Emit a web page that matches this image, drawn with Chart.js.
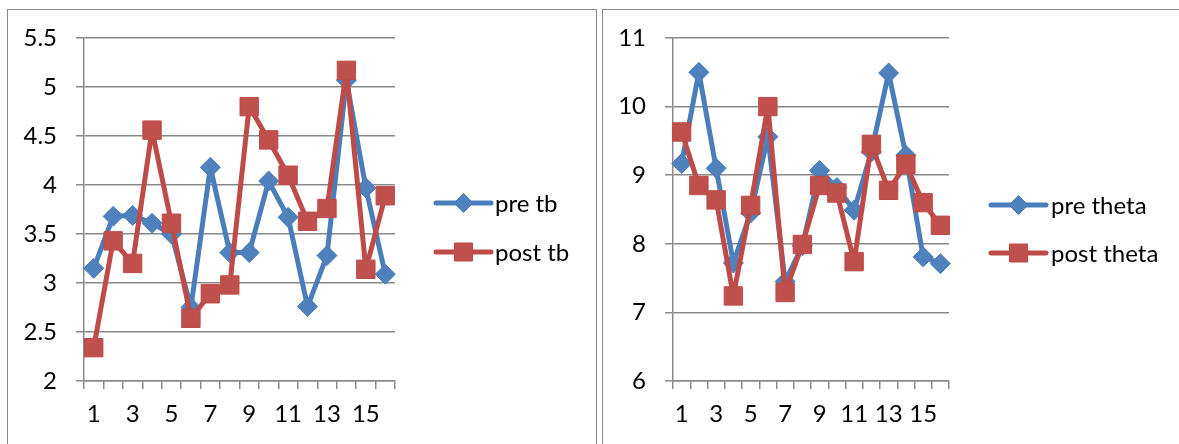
<!DOCTYPE html>
<html>
<head>
<meta charset="utf-8">
<script src="https://cdn.jsdelivr.net/npm/chart.js@4/dist/chart.umd.min.js"></script>
<style>
  html, body { margin: 0; padding: 0; background: #fff; overflow: hidden; }
  .panel { position: absolute; top: 9px; border: 1px solid #8a8a8a; background: #fff; }
  #box1 { left: 7px; width: 588px; height: 440px; }
  #box2 { left: 602px; width: 590px; height: 440px; }
  canvas { display: block; }
</style>
</head>
<body>
<div class="panel" id="box1"><canvas id="tb" width="588" height="434"></canvas></div>
<div class="panel" id="box2"><canvas id="theta" width="576" height="434"></canvas></div>
<script>
// Sessions 1..16
const sessions = ['1','2','3','4','5','6','7','8','9','10','11','12','13','14','15','16'];

// theta/beta ratio
const preTb  = [3.15, 3.68, 3.69, 3.61, 3.50, 2.75, 4.18, 3.31, 3.31, 4.04, 3.67, 2.76, 3.28, 5.07, 3.97, 3.09];
const postTb = [2.34, 3.43, 3.20, 4.56, 3.61, 2.64, 2.89, 2.98, 4.80, 4.46, 4.10, 3.63, 3.76, 5.17, 3.14, 3.89];

// theta power
const preTheta  = [9.17, 10.50, 9.10, 7.72, 8.45, 9.56, 7.45, 7.97, 9.07, 8.82, 8.49, 9.34, 10.49, 9.29, 7.81, 7.71];
const postTheta = [9.63, 8.85, 8.64, 7.24, 8.56, 10.00, 7.29, 7.99, 8.85, 8.74, 7.74, 9.45, 8.78, 9.16, 8.60, 8.27];

// y axis ranges
const tbAxis    = { min: 2, max: 5.5, step: 0.5 };
const thetaAxis = { min: 6, max: 11,  step: 1 };

const FONT = "Lato, 'Open Sans', sans-serif";
const FONT_SIZE = 24;
const BLUE_LINE = '#4A7EBB', BLUE_FILL = '#4F81BD';
const RED_LINE  = '#BE4B48', RED_FILL  = '#C0504D';
const GRID = '#898989';

function drawMarker(ctx, style, x, y, fill, stroke) {
  ctx.save();
  ctx.fillStyle = fill;
  ctx.strokeStyle = stroke;
  ctx.lineWidth = 1;
  ctx.beginPath();
  if (style === 'rectRot') {
    const r = 9.5;
    ctx.moveTo(x, y - r); ctx.lineTo(x + r, y); ctx.lineTo(x, y + r); ctx.lineTo(x - r, y);
  } else {
    const h = 9;
    ctx.rect(x - h, y - h, 2 * h, 2 * h);
  }
  ctx.closePath();
  ctx.fill();
  ctx.stroke();
  ctx.restore();
}

// Legend with a line sample and marker beside each series name
const lineLegend = {
  id: 'lineLegend',
  afterDraw(chart, args, opts) {
    const ctx = chart.ctx;
    chart.data.datasets.forEach((ds, i) => {
      const y = opts.y[i];
      ctx.save();
      ctx.strokeStyle = ds.borderColor;
      ctx.lineWidth = 5;
      ctx.lineCap = 'round';
      ctx.beginPath();
      ctx.moveTo(opts.x1, y);
      ctx.lineTo(opts.x2, y);
      ctx.stroke();
      ctx.restore();
      drawMarker(ctx, ds.pointStyle, (opts.x1 + opts.x2) / 2, y, ds.pointBackgroundColor, ds.pointBorderColor);
      ctx.save();
      ctx.fillStyle = '#000';
      ctx.font = FONT_SIZE + 'px ' + FONT;
      ctx.textBaseline = 'middle';
      ctx.textAlign = 'left';
      ctx.fillText(ds.label, opts.textX, y + 1);
      ctx.restore();
    });
  }
};

function series(label, data, line, fill, style, order) {
  return {
    label, data, order,
    borderColor: line,
    backgroundColor: fill,
    borderWidth: 5,
    borderJoinStyle: 'round',
    borderCapStyle: 'round',
    tension: 0,
    pointStyle: style,
    pointRadius: style === 'rect' ? 13 : 10,
    pointBorderWidth: 1,
    pointBackgroundColor: fill,
    pointBorderColor: line,
    pointHoverRadius: style === 'rect' ? 13 : 10
  };
}

function makeChart(id, sets, axis, yWidth, padRight, legend) {
  return new Chart(document.getElementById(id), {
    type: 'line',
    data: { labels: sessions, datasets: sets },
    options: {
      responsive: false,
      animation: false,
      layout: { padding: { left: 0, top: 28, right: padRight, bottom: 0 } },
      plugins: {
        legend: { display: false },
        tooltip: { enabled: false },
        lineLegend: legend
      },
      scales: {
        x: {
          type: 'category',
          offset: true,
          grid: { display: true, offset: true, drawOnChartArea: false, drawTicks: true, tickLength: 8, color: GRID, lineWidth: 1.5 },
          border: { display: true, color: GRID, width: 1.5 },
          ticks: {
            autoSkip: false, maxRotation: 0, padding: 11, color: '#000',
            font: { family: FONT, size: FONT_SIZE },
            callback: function (v, i) { return i % 2 === 0 ? this.getLabelForValue(v) : ''; }
          },
          afterFit(scale) { scale.height = 63; }
        },
        y: {
          min: axis.min, max: axis.max,
          grid: { display: true, drawOnChartArea: true, drawTicks: true, tickLength: 8, color: GRID, lineWidth: 1.5 },
          border: { display: true, color: GRID, width: 1.5 },
          ticks: {
            stepSize: axis.step, padding: 19, color: '#000',
            font: { family: FONT, size: FONT_SIZE },
            callback: v => String(v)
          },
          afterFit(scale) {
            scale.width = yWidth;
            scale.paddingTop = 0;
            scale.paddingBottom = 0;
          }
        }
      }
    },
    plugins: [lineLegend]
  });
}

makeChart('tb', [
  series('pre tb', preTb, BLUE_LINE, BLUE_FILL, 'rectRot', 1),
  series('post tb', postTb, RED_LINE, RED_FILL, 'rect', 0)
], tbAxis, 76, 201, { x1: 428, x2: 483, textX: 487, y: [193, 242] });

makeChart('theta', [
  series('pre theta', preTheta, BLUE_LINE, BLUE_FILL, 'rectRot', 1),
  series('post theta', postTheta, RED_LINE, RED_FILL, 'rect', 0)
], thetaAxis, 70, 230, { x1: 388, x2: 443, textX: 448, y: [195, 243] });
</script>
</body>
</html>
